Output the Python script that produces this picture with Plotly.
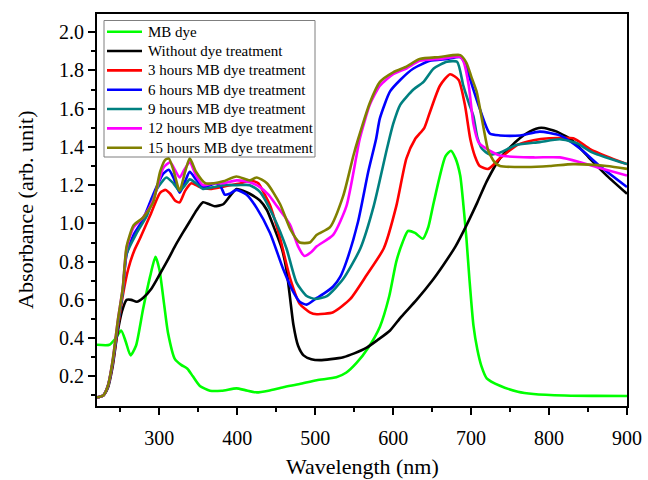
import plotly.graph_objects as go

# UV-Vis absorbance spectra: MB dye, untreated film and films after MB dye treatment
wl_mb = [220, 236, 244, 251, 257, 263, 270, 279, 288, 295, 300, 306, 311, 320, 328, 336,
         343, 352, 365, 380, 399, 410, 425, 440, 459, 480, 502, 527, 540, 553, 568, 583,
         595, 604, 612, 619, 628, 638, 645, 651, 660, 667, 674, 680, 686, 690, 694, 698,
         703, 708, 713, 720, 737, 760, 780, 820, 860, 900]
abs_mb = [0.365, 0.365, 0.40, 0.44, 0.38, 0.31, 0.36, 0.55, 0.72, 0.825, 0.76, 0.58, 0.43,
          0.29, 0.26, 0.24, 0.20, 0.15, 0.125, 0.125, 0.137, 0.128, 0.116, 0.125, 0.143,
          0.16, 0.18, 0.195, 0.22, 0.27, 0.35, 0.46, 0.62, 0.80, 0.90, 0.96, 0.95, 0.92,
          0.98, 1.09, 1.25, 1.35, 1.38, 1.34, 1.25, 1.10, 0.92, 0.70, 0.465, 0.34, 0.256,
          0.19, 0.151, 0.12, 0.108, 0.10, 0.098, 0.097]

wl_0h = [220, 228, 234, 240, 246, 252, 258, 264, 271, 279, 290, 300, 311, 320, 330, 339,
         348, 356, 364, 371, 382, 392, 399, 408, 416, 429, 438, 446, 457, 463, 468, 472,
         478, 485, 495, 506, 520, 536, 550, 566, 580, 596, 610, 630, 650, 664, 680, 694,
         708, 720, 737, 758, 775, 790, 810, 831, 852, 874, 900]
abs_0h = [0.09, 0.10, 0.14, 0.25, 0.42, 0.54, 0.60, 0.60, 0.59, 0.61, 0.66, 0.73, 0.81,
          0.88, 0.95, 1.01, 1.07, 1.11, 1.10, 1.09, 1.10, 1.15, 1.18, 1.17, 1.155, 1.12,
          1.07, 0.99, 0.87, 0.76, 0.60, 0.47, 0.36, 0.31, 0.29, 0.285, 0.29, 0.30, 0.32,
          0.35, 0.39, 0.44, 0.51, 0.60, 0.70, 0.78, 0.88, 0.99, 1.11, 1.22, 1.34, 1.43,
          1.48, 1.50, 1.48, 1.43, 1.34, 1.25, 1.155]

wl_3h = [220, 228, 234, 240, 247, 253, 260, 268, 275, 288, 301, 308, 314, 320, 326, 333,
         341, 352, 365, 380, 391, 405, 416, 427, 434, 442, 455, 468, 480, 493, 502, 523,
         545, 566, 588, 604, 617, 628, 640, 647, 660, 673, 684, 692, 699, 705, 711, 722,
         737, 759, 780, 800, 831, 852, 874, 900]
abs_3h = [0.09, 0.10, 0.15, 0.26, 0.46, 0.62, 0.76, 0.86, 0.92, 1.04, 1.16, 1.175, 1.155,
          1.12, 1.11, 1.17, 1.21, 1.19, 1.18, 1.19, 1.20, 1.21, 1.225, 1.21, 1.16, 1.095,
          0.92, 0.71, 0.58, 0.535, 0.525, 0.535, 0.605, 0.73, 0.87, 1.09, 1.34, 1.44, 1.50,
          1.58, 1.72, 1.78, 1.75, 1.62, 1.44, 1.35, 1.30, 1.285, 1.34, 1.41, 1.435, 1.445,
          1.445, 1.39, 1.35, 1.31]

wl_6h = [220, 228, 234, 240, 247, 253, 258, 267, 279, 292, 305, 312, 318, 326, 333, 339,
         347, 356, 365, 373, 379, 384, 390, 399, 412, 425, 442, 459, 472, 480, 489, 502,
         510, 523, 532, 540, 555, 568, 578, 583, 596, 609, 626, 647, 669, 686, 693, 699,
         711, 724, 737, 763, 788, 814, 840, 865, 900]
abs_6h = [0.09, 0.10, 0.15, 0.27, 0.48, 0.65, 0.84, 0.94, 1.02, 1.15, 1.26, 1.28, 1.24,
          1.16, 1.22, 1.27, 1.23, 1.19, 1.20, 1.21, 1.19, 1.15, 1.155, 1.175, 1.15, 1.08,
          0.95, 0.76, 0.64, 0.59, 0.575, 0.61, 0.63, 0.67, 0.72, 0.80, 1.01, 1.27, 1.44,
          1.55, 1.69, 1.75, 1.81, 1.85, 1.86, 1.87, 1.83, 1.75, 1.60, 1.47, 1.46, 1.46,
          1.48, 1.46, 1.39, 1.30, 1.19]

wl_9h = [220, 228, 234, 240, 247, 253, 258, 271, 284, 297, 309, 318, 326, 333, 339, 347,
         356, 370, 382, 400, 416, 429, 446, 463, 476, 489, 500, 515, 536, 558, 575, 592,
         600, 609, 626, 639, 652, 669, 682, 690, 697, 703, 708, 714, 724, 737, 758, 788,
         814, 835, 856, 900]
abs_9h = [0.09, 0.10, 0.15, 0.27, 0.48, 0.64, 0.84, 0.95, 1.04, 1.18, 1.24, 1.21, 1.17,
          1.20, 1.23, 1.21, 1.18, 1.19, 1.20, 1.20, 1.20, 1.165, 1.04, 0.87, 0.69, 0.62,
          0.605, 0.62, 0.71, 0.87, 1.09, 1.39, 1.52, 1.62, 1.70, 1.74, 1.81, 1.845, 1.845,
          1.72, 1.63, 1.56, 1.45, 1.39, 1.36, 1.37, 1.41, 1.425, 1.44, 1.42, 1.37, 1.31]

wl_12h = [220, 228, 234, 240, 247, 253, 258, 267, 279, 292, 305, 314, 320, 326, 332, 339,
          347, 356, 370, 382, 399, 416, 429, 440, 450, 460, 468, 478, 486, 495, 502, 523,
          540, 553, 557, 570, 583, 600, 617, 634, 660, 686, 690, 697, 703, 710, 720, 737,
          780, 814, 840, 865, 900]
abs_12h = [0.09, 0.10, 0.15, 0.28, 0.50, 0.66, 0.87, 0.98, 1.03, 1.12, 1.29, 1.32, 1.28,
           1.24, 1.28, 1.32, 1.25, 1.20, 1.21, 1.21, 1.225, 1.215, 1.19, 1.15, 1.095, 1.04,
           0.99, 0.88, 0.83, 0.85, 0.88, 0.94, 1.09, 1.355, 1.44, 1.62, 1.72, 1.78, 1.81,
           1.85, 1.86, 1.87, 1.85, 1.72, 1.52, 1.42, 1.39, 1.355, 1.345, 1.345, 1.32, 1.29,
           1.25]

wl_15h = [220, 228, 234, 240, 247, 253, 258, 267, 279, 292, 301, 307, 312, 318, 326, 333,
          339, 347, 359, 370, 382, 399, 416, 425, 438, 455, 468, 480, 493, 502, 519, 536,
          549, 555, 570, 583, 600, 617, 634, 660, 686, 694, 700, 707, 715, 722, 730, 737,
          771, 801, 831, 874, 900]
abs_15h = [0.09, 0.10, 0.15, 0.28, 0.50, 0.66, 0.88, 0.99, 1.03, 1.11, 1.27, 1.33, 1.34,
           1.28, 1.17, 1.27, 1.34, 1.27, 1.21, 1.21, 1.22, 1.245, 1.225, 1.24, 1.21, 1.10,
           0.97, 0.90, 0.90, 0.94, 0.98, 1.145, 1.355, 1.44, 1.63, 1.74, 1.79, 1.82, 1.86,
           1.87, 1.88, 1.84, 1.77, 1.69, 1.52, 1.38, 1.32, 1.30, 1.295, 1.30, 1.31, 1.30,
           1.285]

series = [
    ("MB dye", wl_mb, abs_mb, "#00ff00"),
    ("Without dye treatment", wl_0h, abs_0h, "#000000"),
    ("3 hours MB dye treatment", wl_3h, abs_3h, "#ff0000"),
    ("6 hours MB dye treatment", wl_6h, abs_6h, "#0000ff"),
    ("9 hours MB dye treatment", wl_9h, abs_9h, "#008080"),
    ("12 hours MB dye treatment", wl_12h, abs_12h, "#ff00ff"),
    ("15 hours MB dye treatment", wl_15h, abs_15h, "#808000"),
]

FONT = "Liberation Serif"
W, H = 648, 480
ML, MR, MT, MB = 97, 21, 14, 74
PW, PH = W - ML - MR, H - MT - MB


def px_x(px):
    """pixel column -> paper x"""
    return (px - ML) / PW


def px_y(py):
    """pixel row -> paper y"""
    return (H - MB - py) / PH


fig = go.Figure()
for name, x, y, color in series:
    fig.add_trace(go.Scatter(
        x=x, y=y, name=name, mode="lines", showlegend=False,
        line=dict(color=color, width=2.6, shape="spline", smoothing=0.6),
    ))

# Compact boxed legend (tight row spacing, Origin style)
shapes = [dict(type="rect", xref="paper", yref="paper", layer="above",
               x0=px_x(104), x1=px_x(315), y0=px_y(157), y1=px_y(20.5),
               line=dict(color="#7f7f7f", width=1), fillcolor="white")]
annotations = []
row0, step = 31.7, 19.33
for i, (name, _, _, color) in enumerate(series):
    yy = px_y(row0 + i * step)
    shapes.append(dict(type="line", xref="paper", yref="paper", layer="above",
                       x0=px_x(107), x1=px_x(142), y0=yy, y1=yy,
                       line=dict(color=color, width=2.6)))
    annotations.append(dict(xref="paper", yref="paper", x=px_x(146), y=yy,
                            xanchor="left", yanchor="middle", showarrow=False,
                            text=name, font=dict(family=FONT, size=15, color="black")))

# Axis titles placed at fixed positions so the plot area keeps its margins
annotations.append(dict(xref="paper", yref="paper", x=0.5, y=px_y(466),
                        xanchor="center", yanchor="middle", showarrow=False,
                        text="Wavelength (nm)",
                        font=dict(family=FONT, size=22, color="black")))
annotations.append(dict(xref="paper", yref="paper", x=px_x(25), y=0.5,
                        xanchor="center", yanchor="middle", showarrow=False,
                        textangle=-90, text="Absorbance (arb. unit)",
                        font=dict(family=FONT, size=22, color="black")))

fig.update_layout(
    width=W, height=H,
    margin=dict(l=ML, r=MR, t=MT, b=MB, autoexpand=False),
    paper_bgcolor="white", plot_bgcolor="white",
    font=dict(family=FONT, color="black"),
    showlegend=False,
    shapes=shapes,
    annotations=annotations,
)

fig.update_xaxes(
    range=[220, 900], tickvals=[300, 400, 500, 600, 700, 800, 900],
    automargin=False,
    showline=True, linecolor="black", linewidth=2, mirror=True,
    ticks="outside", ticklen=7, tickwidth=2, tickcolor="black",
    ticklabelstandoff=6,
    showgrid=False, zeroline=False,
    tickfont=dict(family=FONT, size=20, color="black"),
    minor=dict(tickvals=[250, 350, 450, 550, 650, 750, 850], ticks="outside",
               ticklen=4, tickwidth=2, tickcolor="black"),
)
fig.update_yaxes(
    range=[0.045, 2.095], tickvals=[0.2, 0.4, 0.6, 0.8, 1.0, 1.2, 1.4, 1.6, 1.8, 2.0],
    tickformat=".1f",
    automargin=False,
    showline=True, linecolor="black", linewidth=2, mirror=True,
    ticks="outside", ticklen=7, tickwidth=2, tickcolor="black",
    showgrid=False, zeroline=False,
    tickfont=dict(family=FONT, size=20, color="black"),
    minor=dict(tickvals=[0.1, 0.3, 0.5, 0.7, 0.9, 1.1, 1.3, 1.5, 1.7, 1.9],
               ticks="outside", ticklen=4, tickwidth=2, tickcolor="black"),
)

fig.write_html("out.html")
